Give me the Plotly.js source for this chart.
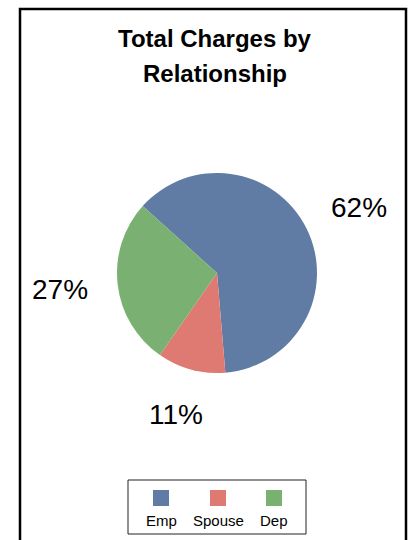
<!DOCTYPE html>
<html>
<head>
<meta charset="utf-8">
<script src="https://cdn.plot.ly/plotly-3.0.1.min.js"></script>
<style>html,body{margin:0;padding:0;background:#fff;}#chart{width:410px;height:540px;}</style>
</head>
<body>
<div id="chart"></div>
<script>
const titleLines = ["Total Charges by", "Relationship"];
const categories = ["Emp", "Spouse", "Dep"];
const values = [62, 11, 27];
const colors = ["#617CA4", "#DF7A73", "#7BB073"];

const W = 410, H = 540;
const FONT = "Liberation Sans, Arial, sans-serif";
const rotation = 312;
const domX = [117 / W, 317 / W];
const domY = [1 - 373 / H, 1 - 173 / H];

const pie = {
  type: "pie",
  labels: categories,
  values: values,
  sort: false,
  direction: "clockwise",
  rotation: rotation,
  marker: { colors: colors, line: { width: 0 } },
  textinfo: "none",
  hoverinfo: "label+percent",
  showlegend: false,
  domain: { x: domX, y: domY }
};

// percentage labels placed radially outside each slice's mid-angle
const total = values.reduce((a, b) => a + b, 0);
const cxPx = (domX[0] + domX[1]) / 2 * W;
const cyPx = (1 - (domY[0] + domY[1]) / 2) * H;
const R = Math.min((domX[1] - domX[0]) * W, (domY[1] - domY[0]) * H) / 2;
const annotations = [];
let start = rotation;
values.forEach((v, i) => {
  const span = v / total * 360;
  const mid = (start + span / 2) * Math.PI / 180;
  start += span;
  const px = cxPx + 1.58 * R * Math.sin(mid);
  const py = cyPx - 1.47 * R * Math.cos(mid);
  annotations.push({
    x: px / W, y: 1 - py / H, xref: "paper", yref: "paper",
    xanchor: "center", yanchor: "middle", showarrow: false,
    text: Math.round(v / total * 100) + "%",
    font: { family: FONT, size: 28, color: "#000" }
  });
});

// title lines
titleLines.forEach((t, i) => {
  annotations.push({
    x: 215 / W, y: 1 - (39 + i * 34) / H, xref: "paper", yref: "paper",
    xanchor: "center", yanchor: "middle", showarrow: false,
    text: "<b>" + t + "</b>",
    font: { family: FONT, size: 24, color: "#000" }
  });
});

// custom legend: squares above labels
const shapes = [
  { type: "rect", xref: "paper", yref: "paper", x0: 20 / W, x1: 406 / W, y0: -0.02, y1: 1 - 9 / H,
    line: { color: "#000", width: 2.5 }, fillcolor: "rgba(0,0,0,0)" },
  { type: "rect", xref: "paper", yref: "paper", x0: 128 / W, x1: 306 / W, y0: 1 - 534 / H, y1: 1 - 480 / H,
    line: { color: "#222", width: 1 }, fillcolor: "rgba(0,0,0,0)" }
];
const legendX = [161, 218, 274];
categories.forEach((c, i) => {
  shapes.push({
    type: "rect", xref: "paper", yref: "paper",
    x0: (legendX[i] - 8) / W, x1: (legendX[i] + 8) / W,
    y0: 1 - 506 / H, y1: 1 - 490 / H,
    line: { width: 0 }, fillcolor: colors[i]
  });
  annotations.push({
    x: legendX[i] / W, y: 1 - 520 / H, xref: "paper", yref: "paper",
    xanchor: "center", yanchor: "middle", showarrow: false,
    text: c, font: { family: FONT, size: 15, color: "#000" }
  });
});

const layout = {
  width: W, height: H, autosize: false,
  margin: { l: 0, r: 0, t: 0, b: 0, pad: 0 },
  paper_bgcolor: "#fff", plot_bgcolor: "#fff",
  showlegend: false,
  annotations: annotations,
  shapes: shapes
};

Plotly.newPlot("chart", [pie], layout, { displayModeBar: false, staticPlot: true });
</script>
</body>
</html>
